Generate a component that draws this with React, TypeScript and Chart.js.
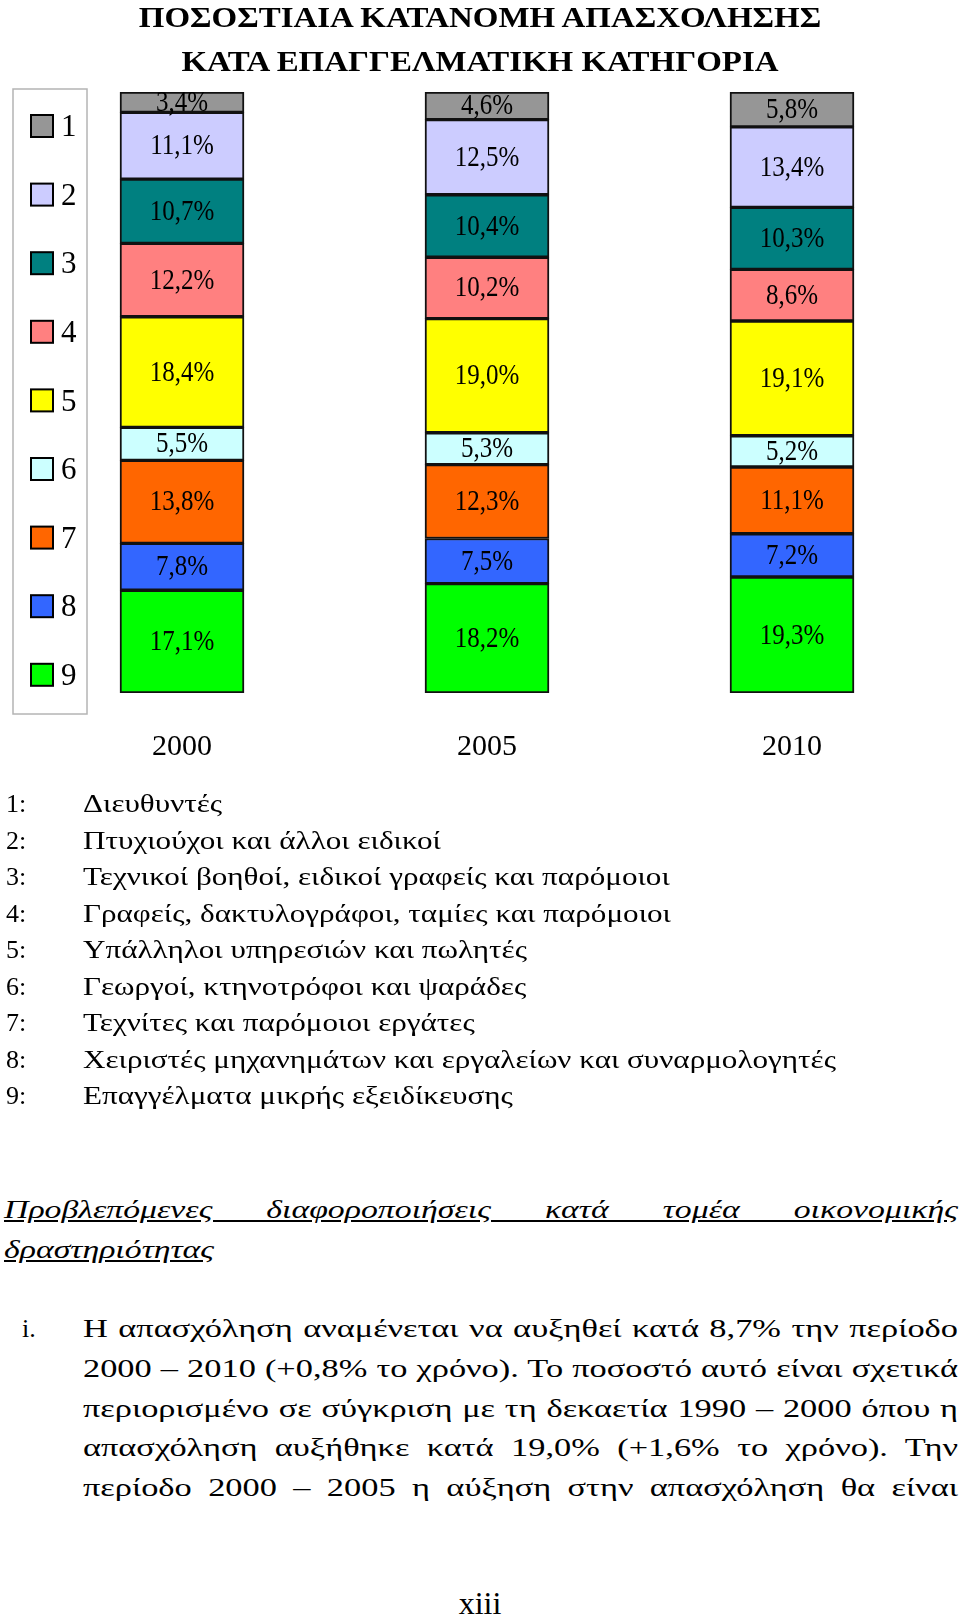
import React, { useEffect, useRef } from 'react';
import { Chart, registerables } from 'chart.js';

Chart.register(...registerables);

const years = ['2000', '2005', '2010'];
const categoryNumbers = ['1', '2', '3', '4', '5', '6', '7', '8', '9'];
const cat1 = [3.4, 4.6, 5.8];
const cat2 = [11.1, 12.5, 13.4];
const cat3 = [10.7, 10.4, 10.3];
const cat4 = [12.2, 10.2, 8.6];
const cat5 = [18.4, 19.0, 19.1];
const cat6 = [5.5, 5.3, 5.2];
const cat7 = [13.8, 12.3, 11.1];
const cat8 = [7.8, 7.5, 7.2];
const cat9 = [17.1, 18.2, 19.3];
const categoryColors = ['#969696', '#CCCCFF', '#008080', '#FF8080', '#FFFF00', '#CCFFFF', '#FF6600', '#3366FF', '#00FF00'];
const categoryNames = [
  'Διευθυντές',
  'Πτυχιούχοι και άλλοι ειδικοί',
  'Τεχνικοί βοηθοί, ειδικοί γραφείς και παρόμοιοι',
  'Γραφείς, δακτυλογράφοι, ταμίες και παρόμοιοι',
  'Υπάλληλοι υπηρεσιών και πωλητές',
  'Γεωργοί, κτηνοτρόφοι και ψαράδες',
  'Τεχνίτες και παρόμοιοι εργάτες',
  'Χειριστές μηχανημάτων και εργαλείων και συναρμολογητές',
  'Επαγγέλματα μικρής εξειδίκευσης',
];
const titleLines = ['ΠΟΣΟΣΤΙΑΙΑ ΚΑΤΑΝΟΜΗ ΑΠΑΣΧΟΛΗΣΗΣ', 'ΚΑΤΑ ΕΠΑΓΓΕΛΜΑΤΙΚΗ ΚΑΤΗΓΟΡΙΑ'];
const headingLines = ['Προβλεπόμενες διαφοροποιήσεις κατά τομέα οικονομικής', 'δραστηριότητας'];
const paragraphLines = [
  'Η απασχόληση αναμένεται να αυξηθεί κατά 8,7% την περίοδο',
  '2000 – 2010 (+0,8% το χρόνο). Το ποσοστό αυτό είναι σχετικά',
  'περιορισμένο σε σύγκριση με τη δεκαετία 1990 – 2000 όπου η',
  'απασχόληση αυξήθηκε κατά 19,0% (+1,6% το χρόνο). Την',
  'περίοδο 2000 – 2005 η αύξηση στην απασχόληση θα είναι',
];
const pageNumber = 'xiii';

const SERIF = '"Liberation Serif", "Times New Roman", serif';
const series = [cat1, cat2, cat3, cat4, cat5, cat6, cat7, cat8, cat9];

const fmt = (v: number) => v.toFixed(1).replace('.', ',') + '%';

let mctx: CanvasRenderingContext2D | null = null;
function textWidth(text: string, font: string) {
  if (!mctx) mctx = document.createElement('canvas').getContext('2d');
  if (!mctx) return 1;
  mctx.font = font;
  return mctx.measureText(text).width;
}

const labelsPlugin = {
  id: 'segLabels',
  afterDatasetsDraw(chart: any) {
    const ctx = chart.ctx;
    ctx.save();
    ctx.fillStyle = '#000';
    ctx.textAlign = 'center';
    ctx.textBaseline = 'middle';
    ctx.font = `25px ${SERIF}`;
    chart.data.datasets.forEach((ds: any, di: number) => {
      const meta = chart.getDatasetMeta(di);
      meta.data.forEach((el: any, i: number) => {
        const { x, y, base } = el.getProps(['x', 'y', 'base'], true);
        ctx.save();
        ctx.translate(x, (y + base) / 2 + 1);
        ctx.scale(1, 1.15);
        ctx.fillText(fmt(ds.data[i]), 0, 0);
        ctx.restore();
      });
    });
    ctx.restore();
  },
};

const legendPlugin = {
  id: 'boxLegend',
  afterDraw(chart: any) {
    const ctx = chart.ctx;
    ctx.save();
    ctx.strokeStyle = '#b4b4b4';
    ctx.lineWidth = 1.5;
    ctx.strokeRect(13, 89, 74, 625);
    ctx.font = `31px ${SERIF}`;
    ctx.textBaseline = 'middle';
    ctx.textAlign = 'left';
    categoryNumbers.forEach((n, i) => {
      const cy = 126 + i * 68.6;
      ctx.fillStyle = categoryColors[i];
      ctx.fillRect(31, cy - 11, 22, 22);
      ctx.strokeStyle = '#000';
      ctx.lineWidth = 2;
      ctx.strokeRect(31, cy - 11, 22, 22);
      ctx.fillStyle = '#000';
      ctx.fillText(n, 61, cy + 2);
    });
    ctx.restore();
  },
};

function ChartBox() {
  const ref = useRef<HTMLCanvasElement>(null);
  useEffect(() => {
    if (!ref.current) return;
    const datasets = series
      .map((d, i) => ({
        label: categoryNumbers[i],
        data: d,
        backgroundColor: categoryColors[i],
        borderColor: '#111',
        borderWidth: 2,
        borderSkipped: false,
        barThickness: 124,
      }))
      .reverse();
    const chart = new Chart(ref.current, {
      type: 'bar',
      data: { labels: years, datasets },
      options: {
        animation: false,
        responsive: false,
        maintainAspectRatio: false,
        layout: { padding: { left: 29.5, right: 15.5, top: 92, bottom: 0 } },
        plugins: { legend: { display: false }, tooltip: { enabled: false }, title: { display: false } },
        scales: {
          x: {
            stacked: true,
            grid: { display: false, drawTicks: false },
            border: { display: false },
            ticks: { color: '#000', font: { family: SERIF, size: 30 }, padding: 36 },
            afterFit: (s: any) => { s.height = 97; },
          },
          y: { stacked: true, min: 0, max: 100, display: false },
        },
      },
      plugins: [labelsPlugin, legendPlugin],
    });
    return () => chart.destroy();
  }, []);
  return <canvas ref={ref} width={960} height={790} style={{ position: 'absolute', left: 0, top: 0, width: 960, height: 790 }} />;
}

export default function App() {
  const titleFont = `bold 30px ${SERIF}`;
  const sTitle = 686 / textWidth(titleLines[0], titleFont);
  const listFont = `26px ${SERIF}`;
  const sList = 753 / textWidth(categoryNames[7], listFont);
  const headFont = `italic 26px ${SERIF}`;
  const sHead = 210 / textWidth(headingLines[1], headFont);
  const parFont = `25px ${SERIF}`;
  const maxPar = Math.max(...paragraphLines.map((l) => textWidth(l, parFont)));
  const sPar = (875 / maxPar) * 0.995;

  return (
    <div style={{ position: 'absolute', left: 0, top: 0, width: 960, height: 1618, background: '#fff', fontFamily: SERIF, color: '#000', overflow: 'hidden' }}>
      <ChartBox />
      <div style={{ position: 'absolute', left: 0, top: -5, width: 960, textAlign: 'center', fontWeight: 'bold', fontSize: 30, lineHeight: '44px', transform: `scaleX(${sTitle})`, transformOrigin: '480px 0' }}>
        {titleLines.map((t, i) => (<div key={i} style={{ whiteSpace: 'nowrap' }}>{t}</div>))}
      </div>
      <div style={{ position: 'absolute', left: 0, top: 786, width: 960, fontSize: 26, lineHeight: '36.5px' }}>
        {categoryNames.map((n, i) => (
          <div key={i} style={{ display: 'flex', whiteSpace: 'nowrap' }}>
            <span style={{ display: 'inline-block', width: 83, paddingLeft: 6, boxSizing: 'border-box', flex: '0 0 83px' }}>{categoryNumbers[i]}:</span>
            <span style={{ display: 'inline-block', transform: `scaleX(${sList})`, transformOrigin: '0 0' }}>{n}</span>
          </div>
        ))}
      </div>
      <div style={{ position: 'absolute', left: 4, top: 1190, width: 954 / sHead, fontSize: 26, lineHeight: '40px', fontStyle: 'italic', textDecoration: 'underline', transform: `scaleX(${sHead})`, transformOrigin: '0 0' }}>
        <div style={{ textAlign: 'justify', textAlignLast: 'justify', whiteSpace: 'nowrap' }}>{headingLines[0]}</div>
        <div>{headingLines[1]}</div>
      </div>
      <div style={{ position: 'absolute', left: 22, top: 1309, fontSize: 26, lineHeight: '40px' }}>i.</div>
      <div style={{ position: 'absolute', left: 83, top: 1309, width: 875 / sPar, fontSize: 25, lineHeight: '39.8px', transform: `scaleX(${sPar})`, transformOrigin: '0 0' }}>
        {paragraphLines.map((l, i) => (
          <div key={i} style={{ textAlign: 'justify', textAlignLast: 'justify', whiteSpace: 'nowrap' }}>{l}</div>
        ))}
      </div>
      <div style={{ position: 'absolute', left: 0, top: 1584, width: 960, textAlign: 'center', fontSize: 32, lineHeight: '38px' }}>{pageNumber}</div>
    </div>
  );
}
